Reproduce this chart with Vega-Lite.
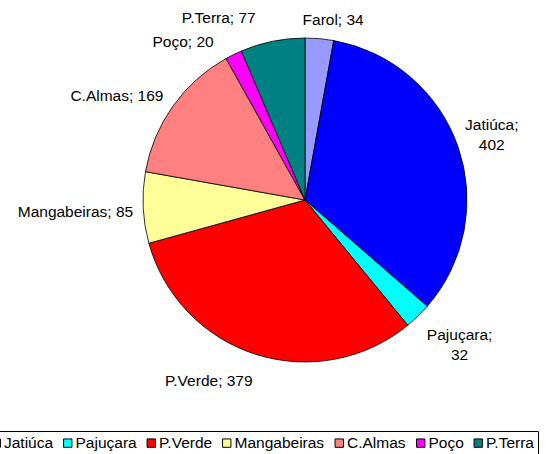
{
  "$schema": "https://vega.github.io/schema/vega-lite/v6.json",
  "autosize": "none",
  "width": 494,
  "height": 400,
  "padding": {"left": 58, "top": 0, "right": 0, "bottom": 54},
  "background": "white",
  "config": {
    "view": {"stroke": null},
    "text": {"font": "Liberation Sans", "fontSize": 15.5, "fill": "black", "lineBreak": "\n", "lineHeight": 20, "baseline": "middle"},
    "legend": {"labelFont": "Liberation Sans", "labelFontSize": 15.5, "labelColor": "black"}
  },
  "data": {
    "values": [
      {"name": "Farol", "value": 34, "order": 1, "label": "Farol; 34"},
      {"name": "Jatiúca", "value": 402, "order": 2, "label": "Jatiúca;\n402"},
      {"name": "Pajuçara", "value": 32, "order": 3, "label": "Pajuçara;\n32"},
      {"name": "P.Verde", "value": 379, "order": 4, "label": "P.Verde; 379"},
      {"name": "Mangabeiras", "value": 85, "order": 5, "label": "Mangabeiras; 85"},
      {"name": "C.Almas", "value": 169, "order": 6, "label": "C.Almas; 169"},
      {"name": "Poço", "value": 20, "order": 7, "label": "Poço; 20"},
      {"name": "P.Terra", "value": 77, "order": 8, "label": "P.Terra; 77"}
    ]
  },
  "encoding": {
    "theta": {"field": "value", "type": "quantitative", "stack": true},
    "order": {"field": "order", "type": "quantitative"}
  },
  "layer": [
    {
      "mark": {"type": "arc", "outerRadius": 162, "stroke": "black", "strokeWidth": 0.8},
      "encoding": {
        "color": {
          "field": "name",
          "type": "nominal",
          "scale": {
            "domain": ["Farol", "Jatiúca", "Pajuçara", "P.Verde", "Mangabeiras", "C.Almas", "Poço", "P.Terra"],
            "range": ["#9999FF", "#0000FF", "#00FFFF", "#FF0000", "#FFFF99", "#FF8080", "#FF00FF", "#008080"]
          },
          "legend": {
            "orient": "none",
            "legendX": -131,
            "legendY": 431,
            "direction": "horizontal",
            "columns": 8,
            "title": null,
            "symbolType": "square",
            "symbolSize": 70,
            "symbolStrokeColor": "black",
            "symbolStrokeWidth": 1,
            "labelOffset": 0,
            "columnPadding": 6.5,
            "strokeColor": "black",
            "padding": 4
          }
        }
      }
    },
    {
      "mark": {"type": "text", "radius": 181, "align": "center", "dx": 12},
      "encoding": {"text": {"condition": {"test": "datum.name == 'Farol'", "field": "label"}, "value": ""}}
    },
    {
      "mark": {"type": "text", "radius": 198, "align": "center", "dy": -9},
      "encoding": {"text": {"condition": {"test": "datum.name == 'Jatiúca'", "field": "label"}, "value": ""}}
    },
    {
      "mark": {"type": "text", "radius": 219, "align": "center", "dx": 2, "dy": -22},
      "encoding": {"text": {"condition": {"test": "datum.name == 'Pajuçara'", "field": "label"}, "value": ""}}
    },
    {
      "mark": {"type": "text", "radius": 190, "align": "right", "dx": 5},
      "encoding": {"text": {"condition": {"test": "datum.name == 'P.Verde'", "field": "label"}, "value": ""}}
    },
    {
      "mark": {"type": "text", "radius": 172, "align": "right", "dy": 4},
      "encoding": {"text": {"condition": {"test": "datum.name == 'Mangabeiras'", "field": "label"}, "value": ""}}
    },
    {
      "mark": {"type": "text", "radius": 175, "align": "right", "dx": 1, "dy": -2},
      "encoding": {"text": {"condition": {"test": "datum.name == 'C.Almas'", "field": "label"}, "value": ""}}
    },
    {
      "mark": {"type": "text", "radius": 180, "align": "right", "dx": -12, "dy": 4},
      "encoding": {"text": {"condition": {"test": "datum.name == 'Poço'", "field": "label"}, "value": ""}}
    },
    {
      "mark": {"type": "text", "radius": 186, "align": "right", "dx": -12},
      "encoding": {"text": {"condition": {"test": "datum.name == 'P.Terra'", "field": "label"}, "value": ""}}
    }
  ]
}
